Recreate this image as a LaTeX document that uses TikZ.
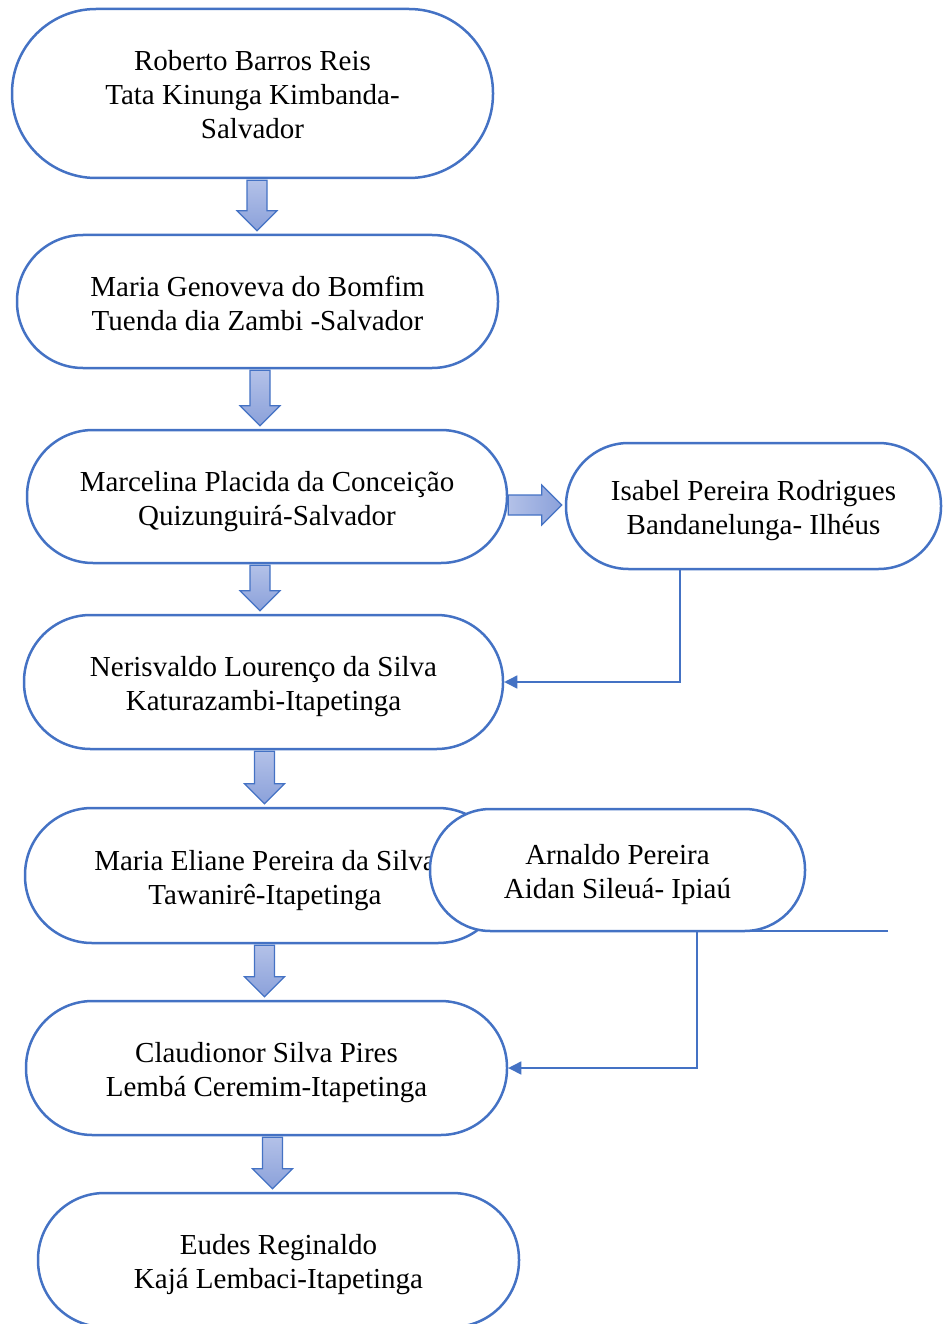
\documentclass[tikz,border=0pt]{standalone}
\usepackage{fontspec}
\setmainfont{Liberation Serif}
\usetikzlibrary{arrows.meta,calc}
\definecolor{bl}{HTML}{4472C4}
\definecolor{afl}{HTML}{B3C1E8}
\definecolor{afd}{HTML}{8BA1DA}
\newcommand\topstrut{\rule{0pt}{31pt}}
\newcommand\bdown[3]{%
  \coordinate (ax) at (#1,0);
  \coordinate (s) at (ax |- #2.south);
  \coordinate (t) at (ax |- #3.north);
  \draw[barrow] ($(s)+(-10,1)$) -- ($(t)+(-10,-23)$) -- ($(t)+(-20,-23)$) -- ($(t)+(0,-3)$)
    -- ($(t)+(20,-23)$) -- ($(t)+(10,-23)$) -- ($(s)+(10,1)$) -- cycle;}
\begin{document}
\begin{tikzpicture}[x=1pt,y=-1pt,
  box/.style={draw=bl, line width=2.5pt, fill=white, align=center,
    font=\fontsize{29}{34}\selectfont, inner sep=0pt,
    execute at end node={\rule[-8pt]{0pt}{8pt}}},
  barrow/.style={draw=bl, line width=1.2pt, top color=afl, bottom color=afd},
  rarrow/.style={draw=bl, line width=1.2pt, left color=afl, right color=afd},
  conn/.style={draw=bl, line width=1.5pt, -{Triangle[length=13pt,width=13pt]}}]
\useasboundingbox (0,0) rectangle (950,1324);
\node[box, minimum width=481pt, minimum height=169pt, rounded corners=84pt] (rob) at (252.5,93.5)
  {\topstrut Roberto Barros Reis\\Tata Kinunga Kimbanda-\\Salvador};
\node[box, minimum width=481pt, minimum height=133pt, rounded corners=66pt] (gen) at (257.5,301.5)
  {\topstrut Maria Genoveva do Bomfim\\Tuenda dia Zambi -Salvador};
\node[box, minimum width=480pt, minimum height=133pt, rounded corners=66pt] (mar) at (267,496.5)
  {\topstrut Marcelina Placida da Conceição\\Quizunguirá-Salvador};
\node[box, minimum width=375pt, minimum height=126pt, rounded corners=62.5pt] (isa) at (753.5,506)
  {\topstrut Isabel Pereira Rodrigues\\Bandanelunga- Ilhéus};
\node[box, minimum width=479pt, minimum height=134pt, rounded corners=66.5pt] (ner) at (263.5,682)
  {\topstrut Nerisvaldo Lourenço da Silva\\Katurazambi-Itapetinga};
\node[box, minimum width=480pt, minimum height=135pt, rounded corners=67pt] (eli) at (265,875.5)
  {\topstrut Maria Eliane Pereira da Silva\\Tawanirê-Itapetinga};
\node[box, minimum width=375pt, minimum height=122pt, rounded corners=60.5pt] (arn) at (617.5,870)
  {\topstrut Arnaldo Pereira\\Aidan Sileuá- Ipiaú};
\node[box, minimum width=481pt, minimum height=134pt, rounded corners=66.5pt] (cla) at (266.5,1068)
  {\topstrut Claudionor Silva Pires\\Lembá Ceremim-Itapetinga};
\node[box, minimum width=481pt, minimum height=134pt, rounded corners=66.5pt] (eud) at (278.5,1260)
  {\topstrut Eudes Reginaldo\\Kajá Lembaci-Itapetinga};
% block arrows
\bdown{257}{rob}{gen}
\bdown{260}{gen}{mar}
\bdown{260}{mar}{ner}
\bdown{264.5}{ner}{eli}
\bdown{264.5}{eli}{cla}
\bdown{272.5}{cla}{eud}
\coordinate (ay) at (0,505);
\coordinate (rs) at (mar.east |- ay);
\coordinate (rt) at (isa.west |- ay);
\draw[rarrow] ($(rs)+(0,-10)$) -- ($(rt)+(-23,-10)$) -- ($(rt)+(-23,-20)$) -- ($(rt)+(-3,0)$)
  -- ($(rt)+(-23,20)$) -- ($(rt)+(-23,10)$) -- ($(rs)+(0,10)$) -- cycle;
% connectors
\coordinate (c1) at (680,0);
\draw[conn] (c1 |- isa.south) |- (ner.east);
\coordinate (free) at (888,931);
\coordinate (c2) at (697,0);
\draw[conn] (free) -- (c2 |- free) |- (cla.east);
\end{tikzpicture}
\end{document}
